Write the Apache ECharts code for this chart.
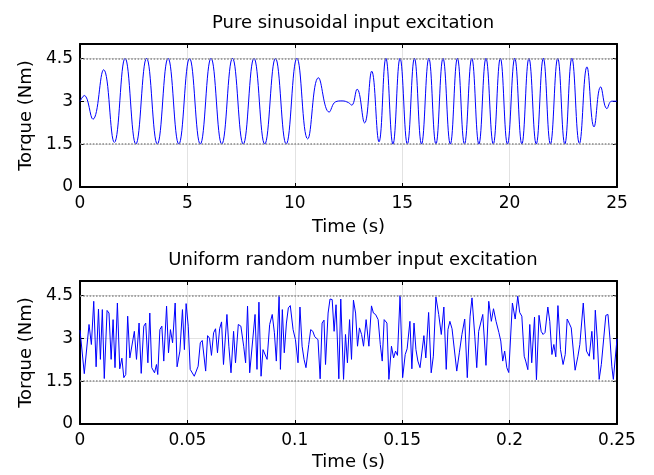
<!DOCTYPE html>
<html><head><meta charset="utf-8">
<script src="https://cdn.jsdelivr.net/npm/echarts@6/dist/echarts.min.js"></script>
<style>html,body{margin:0;padding:0;background:#fff}#c{width:654px;height:475px}</style>
</head><body><div id="c"></div>
<script>
// ---- data ----
const titles = ['Pure sinusoidal input excitation', 'Uniform random number input excitation'];
const xName = 'Time (s)';
const yName = 'Torque (Nm)';
const yTicks = [0, 1.5, 3, 4.5];
const limitLines = [1.5, 4.5];

// top: sinusoidal excitation (extrema), time in s
const sinTime = [0, 0.2, 0.6, 1.1, 1.6, 2.1, 2.6, 3.1, 3.6, 4.1, 4.6, 5.1, 5.6, 6.1, 6.6, 7.1, 7.6, 8.1, 8.6, 9.1, 9.6, 10.1,
  10.6, 11.1, 11.6, 11.9, 12.2, 12.5, 12.65, 12.9, 13.25, 13.58, 13.92,
  14.24, 14.57, 14.9, 15.24, 15.57, 15.9, 16.24, 16.57, 16.9, 17.24, 17.57, 17.9, 18.24, 18.57, 18.9, 19.24, 19.57, 19.9,
  20.24, 20.57, 20.9, 21.24, 21.57, 21.9, 22.24, 22.57, 22.9, 23.25, 23.6, 23.93, 24.24, 24.53, 24.75, 25];
const sinTorque = [3.0, 3.2, 2.37, 4.1, 1.56, 4.5, 1.5, 4.5, 1.5, 4.5, 1.5, 4.5, 1.5, 4.5, 1.5, 4.5, 1.5, 4.5, 1.5, 4.5, 1.5, 4.5,
  1.68, 3.82, 2.62, 2.98, 3.01, 2.95, 2.86, 3.42, 2.24, 4.05, 1.58,
  4.5, 1.5, 4.5, 1.5, 4.5, 1.5, 4.5, 1.5, 4.5, 1.5, 4.5, 1.5, 4.5, 1.5, 4.5, 1.5, 4.5, 1.5,
  4.5, 1.5, 4.5, 1.5, 4.5, 1.5, 4.5, 1.5, 4.5, 1.52, 4.2, 2.1, 3.5, 2.74, 3.0, 3.0];

// bottom: uniform random excitation (vertices), time in ms
const randTimeMs = [0, 2.0, 4.2, 5.3, 6.4, 7.5, 8.6, 9.5, 10.4, 11.3, 12.6, 13.5, 14.5, 15.4, 16.3, 17.4, 18.5, 19.5, 20.4, 21.3,
  22.2, 23.2, 24.1, 25.3, 26.3, 27.5, 28.5, 29.7, 30.6, 31.6, 32.5, 33.4, 34.7, 35.6, 36.2, 37.2, 38.1, 39.0, 40.3, 41.2,
  42.1, 43.1, 44.3, 45.2, 46.5, 47.7, 48.6, 49.4, 50.4, 51.3, 52.2, 53.2, 54.1, 55.0, 56.0, 56.9, 57.5, 58.5, 59.4, 60.3,
  61.2, 62.2, 63.1, 64.0, 65.0, 65.9, 66.8, 68.4, 69.3, 70.3, 71.5, 72.4, 73.7, 74.9, 76.2, 77.1, 78.0, 79.0, 79.9, 81.5,
  82.4, 83.3, 84.3, 85.2, 86.1, 87.1, 88.3, 89.5, 90.5, 91.4, 92.7, 93.3, 94.2, 95.1, 96.1, 97.0, 97.9, 99.2, 100.3, 101.5,
  102.4, 103.4, 104.3, 105.2, 106.5, 107.4, 108.4, 109.3, 110.2, 110.8, 111.8, 112.7, 113.6, 114.3, 115.5, 116.4, 117.4, 118.3, 119.2, 120.5,
  121.4, 122.7, 123.6, 124.5, 125.5, 126.4, 127.3, 128.3, 129.2, 130.1, 131.1, 132.0, 133.2, 134.5, 135.7, 136.6, 137.6, 138.8, 139.8, 140.7,
  141.6, 142.9, 143.8, 145.0, 146.0, 146.9, 147.8, 149.0, 150.2, 151.4, 152.3, 153.6, 154.5, 155.5, 156.4, 157.3, 158.3, 159.2, 160.1, 161.0,
  162.3, 163.5, 164.5, 165.7, 167.0, 168.2, 169.4, 170.5, 171.3, 172.2, 173.2, 174.1, 175.4, 176.6, 177.8, 179.1, 180.3, 181.6, 182.5, 183.8,
  184.7, 185.6, 186.5, 187.5, 189.0, 190.3, 191.5, 192.5, 193.7, 195.0, 195.9, 196.8, 197.7, 198.7, 199.6, 201.3, 202.6, 203.8, 204.7, 205.7,
  206.8, 207.5, 208.5, 209.4, 210.3, 211.6, 212.5, 213.7, 214.7, 215.6, 216.5, 217.8, 218.7, 219.7, 220.6, 221.5, 222.5, 223.7, 224.9, 225.9,
  226.8, 227.7, 228.7, 229.6, 230.5, 231.8, 232.7, 234.3, 234.9, 235.8, 237.1, 238.3, 239.2, 239.9, 240.8, 241.7, 242.7, 243.6, 244.8, 245.8,
  246.7, 247.6, 248.3, 249.2, 250.0];
const randTorque = [3.28, 1.76, 3.48, 2.78, 4.29, 2.0, 4.02, 2.26, 4.0, 1.59, 3.97, 3.88, 2.26, 3.65, 1.97, 4.23, 1.93, 2.3, 1.62, 1.73,
  3.77, 2.31, 2.37, 3.24, 2.26, 3.53, 1.77, 3.42, 3.53, 2.14, 3.88, 1.97, 1.79, 2.08, 1.73, 3.3, 3.42, 2.2, 4.12, 2.49,
  3.3, 2.84, 4.23, 2.0, 2.55, 4.0, 2.6, 4.21, 3.42, 1.91, 1.85, 1.67, 1.65, 2.02, 2.84, 2.92, 2.9, 1.85, 3.09, 3.0,
  2.4, 3.19, 3.33, 2.49, 3.33, 3.57, 2.08, 3.83, 2.72, 1.79, 3.24, 2.14, 3.48, 3.42, 2.72, 2.14, 4.12, 1.79, 1.73, 3.83,
  1.91, 4.26, 1.67, 2.6, 2.58, 2.26, 3.48, 3.83, 3.19, 2.2, 4.49, 1.91, 4.0, 2.49, 3.53, 4.06, 4.14, 3.3, 2.95, 2.14,
  4.09, 2.72, 2.26, 1.97, 2.78, 3.3, 3.24, 3.05, 3.01, 2.95, 1.58, 3.53, 3.63, 2.08, 3.88, 4.37, 4.35, 3.24, 4.17, 1.58,
  4.37, 1.56, 3.13, 2.14, 3.65, 2.26, 4.33, 3.88, 2.72, 3.36, 3.13, 2.72, 3.65, 2.72, 4.13, 3.88, 3.83, 3.65, 2.78, 2.2,
  3.65, 3.53, 1.56, 2.72, 2.31, 2.55, 2.4, 4.49, 1.62, 2.43, 2.63, 3.59, 1.93, 3.53, 2.6, 2.2, 1.97, 1.97, 3.09, 2.31,
  3.9, 1.79, 2.37, 4.44, 3.83, 3.13, 4.09, 1.91, 3.3, 3.59, 3.33, 3.36, 1.85, 2.49, 3.13, 3.67, 1.62, 3.77, 4.41, 3.07,
  1.97, 3.24, 3.19, 3.83, 2.05, 4.29, 3.59, 4.03, 3.59, 3.2, 2.9, 2.2, 2.55, 1.97, 1.8, 4.23, 3.67, 4.47, 3.9, 3.77,
  2.37, 2.2, 1.9, 3.48, 2.14, 3.74, 1.55, 3.8, 3.24, 3.13, 3.2, 4.09, 3.59, 2.43, 2.78, 2.35, 4.14, 2.6, 2.08, 2.43,
  3.67, 3.53, 3.36, 3.42, 1.88, 2.37, 2.78, 4.23, 4.26, 2.55, 2.37, 3.24, 2.26, 3.98, 2.98, 1.56, 2.08, 2.08, 3.8, 3.83,
  3.0, 2.0, 1.56, 1.56, 2.98];

// ---- chart ----
const FONT = 'DejaVu Sans';
const GRID_LINE = '#e2e2e2';
const grids = [
  {left: 80, top: 44, width: 537, height: 143},
  {left: 80, top: 281, width: 537, height: 143}
];
const xRanges = [{min: 0, max: 25, interval: 5}, {min: 0, max: 0.25, interval: 0.05}];

const xAxes = [], yAxes = [];
grids.forEach((g, i) => {
  const xr = xRanges[i];
  xAxes.push({
    gridIndex: i, type: 'value', position: 'bottom', min: xr.min, max: xr.max, interval: xr.interval,
    name: xName, nameLocation: 'middle', nameGap: i === 0 ? 31 : 29,
    nameTextStyle: {fontFamily: FONT, fontSize: 18, color: '#000'},
    axisLine: {show: true, onZero: false, lineStyle: {color: '#000', width: 2}},
    axisTick: {show: true, inside: true, length: 4, lineStyle: {color: '#000'}},
    axisLabel: {fontFamily: FONT, fontSize: 17, color: '#000', margin: 8},
    splitLine: {show: true, lineStyle: {color: GRID_LINE, width: 1}}
  });
  xAxes.push({
    gridIndex: i, type: 'value', position: 'top', min: xr.min, max: xr.max, interval: xr.interval,
    axisLine: {show: true, onZero: false, lineStyle: {color: '#000', width: 2}},
    axisTick: {show: true, inside: true, length: 4, lineStyle: {color: '#000'}},
    axisLabel: {show: false}, splitLine: {show: false}
  });
  yAxes.push({
    gridIndex: i, type: 'value', position: 'left', min: yTicks[0], max: 5, interval: yTicks[1] - yTicks[0],
    name: yName, nameLocation: 'middle', nameGap: 44,
    nameTextStyle: {fontFamily: FONT, fontSize: 18, color: '#000'},
    axisLine: {show: true, onZero: false, lineStyle: {color: '#000', width: 2}},
    axisTick: {show: true, inside: true, length: 4, lineStyle: {color: '#000'}},
    axisLabel: {fontFamily: FONT, fontSize: 17, color: '#000', margin: 7, showMaxLabel: false},
    splitLine: {show: true, lineStyle: {color: GRID_LINE, width: 1}}
  });
  yAxes.push({
    gridIndex: i, type: 'value', position: 'right', min: yTicks[0], max: 5, interval: yTicks[1] - yTicks[0],
    axisLine: {show: true, onZero: false, lineStyle: {color: '#000', width: 2}},
    axisTick: {show: true, inside: true, length: 4, lineStyle: {color: '#000'}},
    axisLabel: {show: false}, splitLine: {show: false}
  });
});

const limitMark = {
  symbol: 'none', silent: true, label: {show: false}, animation: false,
  lineStyle: {type: 'dotted', color: '#8a8a8a', width: 1.6},
  data: limitLines.map(v => ({yAxis: v}))
};

const option = {
  animation: false,
  backgroundColor: '#fff',
  title: titles.map((t, i) => ({
    text: t, left: 348, top: i === 0 ? 9 : 246, textAlign: 'center',
    textStyle: {fontFamily: FONT, fontSize: 18, fontWeight: 'normal', color: '#000'}
  })),
  grid: grids,
  xAxis: xAxes,
  yAxis: yAxes,
  series: [
    {
      type: 'line', xAxisIndex: 0, yAxisIndex: 0, showSymbol: false, smooth: 0.45,
      lineStyle: {color: '#0000ff', width: 1}, itemStyle: {color: '#0000ff'},
      data: sinTime.map((t, k) => [t, sinTorque[k]]),
      markLine: limitMark
    },
    {
      type: 'line', xAxisIndex: 2, yAxisIndex: 2, showSymbol: false,
      lineStyle: {color: '#0000ff', width: 1}, itemStyle: {color: '#0000ff'},
      data: randTimeMs.map((t, k) => [t / 1000, randTorque[k]]),
      markLine: limitMark
    }
  ]
};
echarts.init(document.getElementById('c'), null, {renderer: 'canvas'}).setOption(option);
</script></body></html>
